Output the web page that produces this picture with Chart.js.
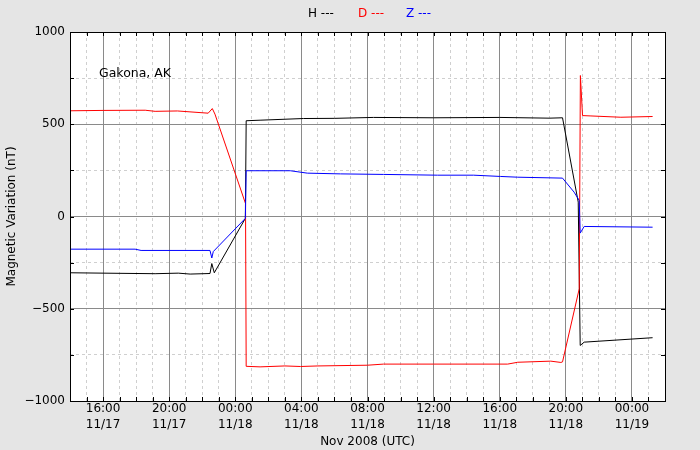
<!DOCTYPE html>
<html>
<head>
<meta charset="utf-8">
<script src="https://cdn.jsdelivr.net/npm/chart.js@4/dist/chart.umd.min.js"></script>
<style>
  body { margin: 0; background: #e5e5e5; }
  #wrap { width: 700px; height: 450px; }
</style>
</head>
<body>
<div id="wrap"><canvas id="myChart" width="700" height="450"></canvas></div>
<script>
// hours counted from 00:00 UTC 11/17
let hTimes = [14.0, 16.0, 19.15, 20.55, 21.27, 22.47, 22.58, 22.73, 24.61, 24.66, 25.5, 28.12, 30.0, 32.36, 36.0, 40.0, 43.0, 43.80, 44.75, 44.87, 45.11, 49.25]
let hValues = [-305, -307, -310, -307, -312, -309, -255, -305, -10, 519, 522, 531, 532, 537, 535, 537, 533, 535, 78, -699, -681, -657]

let dTimes = [14.0, 16.0, 18.55, 19.15, 20.5, 22.36, 22.61, 22.77, 24.62, 24.66, 25.5, 27.0, 27.94, 29.0, 32.0, 32.97, 36.0, 40.48, 41.09, 43.09, 43.70, 43.80, 44.81, 44.88, 45.01, 45.52, 47.33, 49.25]
let dValues = [573, 575, 576, 570, 572, 560, 585, 555, 70, -812, -815, -810, -813, -810, -806, -800, -800, -800, -790, -784, -791, -788, -392, 764, 547, 545, 538, 542]

let zTimes = [14.0, 17.94, 18.30, 22.47, 22.58, 22.67, 24.61, 24.66, 27.33, 28.36, 30.36, 32.97, 36.24, 38.42, 40.06, 41.09, 43.80, 44.50, 44.81, 44.87, 45.11, 49.25]
let zValues = [-177, -177, -184, -184, -225, -190, -10, 248, 248, 235, 231, 228, 224, 224, 217, 213, 208, 132, 87, -90, -54, -58]

let xTickHours = [16, 20, 24, 28, 32, 36, 40, 44, 48]
let xTickTimes = ['16:00', '20:00', '00:00', '04:00', '08:00', '12:00', '16:00', '20:00', '00:00']
let xTickDates = ['11/17', '11/17', '11/18', '11/18', '11/18', '11/18', '11/18', '11/18', '11/19']
let yTickValues = [-1000, -500, 0, 500, 1000]
let yTickLabels = ['\u22121000', '\u2212500', '0', '500', '1000']

let legendNames = ['H ---', 'D ---', 'Z ---']
let legendColors = ['#000000', '#ff0000', '#0000ff']

const FONT = 'DejaVu Sans'

function toPoints(xs, ys) {
    return xs.map((x, i) => ({ x: x, y: ys[i] }))
}

const ctx = document.getElementById('myChart').getContext('2d')

// background, white plot area, frame, inward ticks, legend and station name
const decor = {
    id: 'decor',
    beforeDraw(chart) {
        let c = chart.ctx
        let a = chart.chartArea
        c.save()
        c.fillStyle = '#e5e5e5'
        c.fillRect(0, 0, chart.width, chart.height)
        c.fillStyle = '#ffffff'
        c.fillRect(a.left, a.top, a.right - a.left, a.bottom - a.top)
        c.restore()
    },
    afterDraw(chart) {
        let c = chart.ctx
        let a = chart.chartArea
        let xs = chart.scales.x
        let ys = chart.scales.y
        c.save()
        c.strokeStyle = '#000'
        c.lineWidth = 1
        c.beginPath()
        xs.ticks.forEach(t => {
            let px = Math.round(xs.getPixelForValue(t.value)) + 0.5
            c.moveTo(px, a.top); c.lineTo(px, a.top + 4)
            c.moveTo(px, a.bottom); c.lineTo(px, a.bottom - 4)
        })
        ys.ticks.forEach(t => {
            let py = Math.round(ys.getPixelForValue(t.value)) + 0.5
            c.moveTo(a.left, py); c.lineTo(a.left + 4, py)
            c.moveTo(a.right, py); c.lineTo(a.right - 4, py)
        })
        c.stroke()
        c.strokeRect(Math.round(a.left) + 0.5, Math.round(a.top) + 0.5,
            Math.round(a.right - a.left), Math.round(a.bottom - a.top))

        c.font = '12px "' + FONT + '"'
        c.textBaseline = 'middle'
        c.textAlign = 'left'
        let lx = [308, 358, 406]
        legendNames.forEach((name, i) => {
            c.fillStyle = legendColors[i]
            c.fillText(name, lx[i], 14)
        })
        c.fillStyle = '#000'
        c.font = '12.5px "' + FONT + '"'
        c.fillText('Gakona, AK', a.left + 29, a.top + 42)
        c.restore()
    }
}

let myChart = new Chart(ctx, {
    type: 'line',
    data: {
        datasets: [{
            label: 'H',
            data: toPoints(hTimes, hValues),
            borderColor: '#000000',
            order: 3
        }, {
            label: 'D',
            data: toPoints(dTimes, dValues),
            borderColor: '#ff0000',
            order: 2
        }, {
            label: 'Z',
            data: toPoints(zTimes, zValues),
            borderColor: '#0000ff',
            order: 1
        }]
    },
    options: {
        responsive: false,
        animation: false,
        devicePixelRatio: 1,
        layout: { padding: { left: 0, right: 35, top: 32, bottom: 0 } },
        elements: {
            point: { radius: 0 },
            line: { borderWidth: 1, tension: 0 }
        },
        plugins: {
            legend: { display: false },
            tooltip: { enabled: false }
        },
        scales: {
            x: {
                type: 'linear',
                min: 14,
                max: 50,
                afterFit: (scale) => { scale.height = 49 },
                ticks: {
                    stepSize: 1,
                    autoSkip: false,
                    maxRotation: 0,
                    padding: 0,
                    color: '#000',
                    font: { family: FONT, size: 12, lineHeight: 1.3 },
                    callback: (v) => {
                        let i = xTickHours.indexOf(v)
                        return i >= 0 ? [xTickTimes[i], xTickDates[i]] : ''
                    }
                },
                grid: {
                    drawTicks: false,
                    color: (c) => c.tick && xTickHours.includes(c.tick.value) ? '#8a8a8a' : '#cfcfcf'
                },
                border: {
                    display: false,
                    dash: (c) => c.tick && !xTickHours.includes(c.tick.value) ? [3, 3] : []
                },
                title: {
                    display: true,
                    text: 'Nov 2008 (UTC)',
                    color: '#000',
                    font: { family: FONT, size: 12 },
                    padding: { top: 0, bottom: 1 }
                }
            },
            y: {
                min: -1000,
                max: 1000,
                afterFit: (scale) => { scale.width = 70 },
                ticks: {
                    stepSize: 250,
                    autoSkip: false,
                    padding: 5,
                    color: '#000',
                    font: { family: FONT, size: 12 },
                    callback: (v) => {
                        let i = yTickValues.indexOf(v)
                        return i >= 0 ? yTickLabels[i] : ''
                    }
                },
                grid: {
                    drawTicks: false,
                    color: (c) => c.tick && yTickValues.includes(c.tick.value) ? '#8a8a8a' : '#cfcfcf'
                },
                border: {
                    display: false,
                    dash: (c) => c.tick && !yTickValues.includes(c.tick.value) ? [3, 3] : []
                },
                title: {
                    display: true,
                    text: 'Magnetic Variation (nT)',
                    color: '#000',
                    font: { family: FONT, size: 12 },
                    padding: { top: 5, bottom: 0 }
                }
            }
        }
    },
    plugins: [decor]
})
</script>
</body>
</html>
